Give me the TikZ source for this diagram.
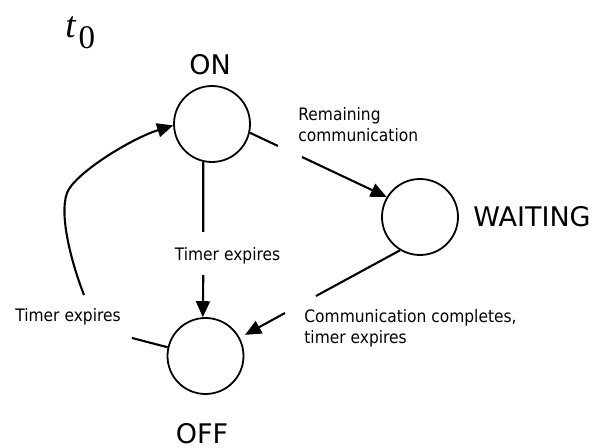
\documentclass[tikz,border=0pt]{standalone}
\usepackage{fontspec}
\newfontfamily\labfont{DejaVu Sans}[FakeStretch=0.9]
\newfontfamily\bigfont{DejaVu Sans}
\newfontfamily\tnr{Liberation Serif}
\usetikzlibrary{arrows.meta}
\begin{document}
\begin{tikzpicture}[x=0.5pt,y=-0.5pt,
  state/.style={circle,draw,line width=0.9pt,minimum size=38pt,inner sep=0pt},
  conn/.style={line width=1.05pt},
  arr/.style={conn,-{Triangle[length=8pt,width=7pt]}},
  small/.style={font=\labfont\fontsize{8.6}{10.5}\selectfont,align=left,inner sep=0pt},
  big/.style={font=\bigfont\fontsize{13.5}{16}\selectfont,inner sep=0pt}]
\useasboundingbox (0,0) rectangle (596,448);

% states
\node[state] (on) at (212,124) {};
\node[state] (wait) at (420,217) {};
\node[state] (off) at (205.5,356) {};

% state names
\node[big] (onl) at (210,65) {ON};
\node[big,anchor=west] (wl) at (473,217) {WAITING};
\node[big] (offl) at (202,434) {OFF};

% time label
\node[anchor=base west,inner sep=0pt] (t0) at (65,38)
  {\tnr\fontsize{18.5}{20}\selectfont\itshape t\upshape\kern1.5pt\fontsize{16.5}{18}\selectfont\raisebox{-5.5pt}{0}};

% transition labels
\node[small,anchor=north west] (lrem) at (298,107) {Remaining\\communication};
\node[small] (ltim1) at (227.5,256) {Timer expires};
\node[small,anchor=north west] (lcomm) at (304,309) {Communication completes,\\timer expires};
\node[small] (ltim2) at (68,317) {Timer expires};

% ON -> WAITING
\coordinate (a1) at (278,146);
\coordinate (a2) at (302,157);
\draw[conn] (on.-13) -- (a1);
\draw[arr] (a2) -- (wait.149);

% ON -> OFF
\coordinate (b1) at (203.3,232);
\coordinate (b2) at (203.3,275);
\draw[conn] (on.-103) -- (b1);
\draw[arr] (b2) -- (off.94);

% WAITING -> OFF
\coordinate (c1) at (316,296);
\coordinate (c2) at (285,313);
\draw[conn] (wait.-121) -- (c1);
\draw[arr,shorten >=3pt] (c2) -- (off.28);

% OFF -> ON
\coordinate (d1) at (132,338);
\coordinate (d2) at (84,295);
\draw[conn] (off.167) -- (d1);
\draw[arr] (d2) .. controls (73,267) and (58.5,216.5) .. (67,193)
  .. controls (74,174) and (130,139) .. (on.182);
\end{tikzpicture}
\end{document}
